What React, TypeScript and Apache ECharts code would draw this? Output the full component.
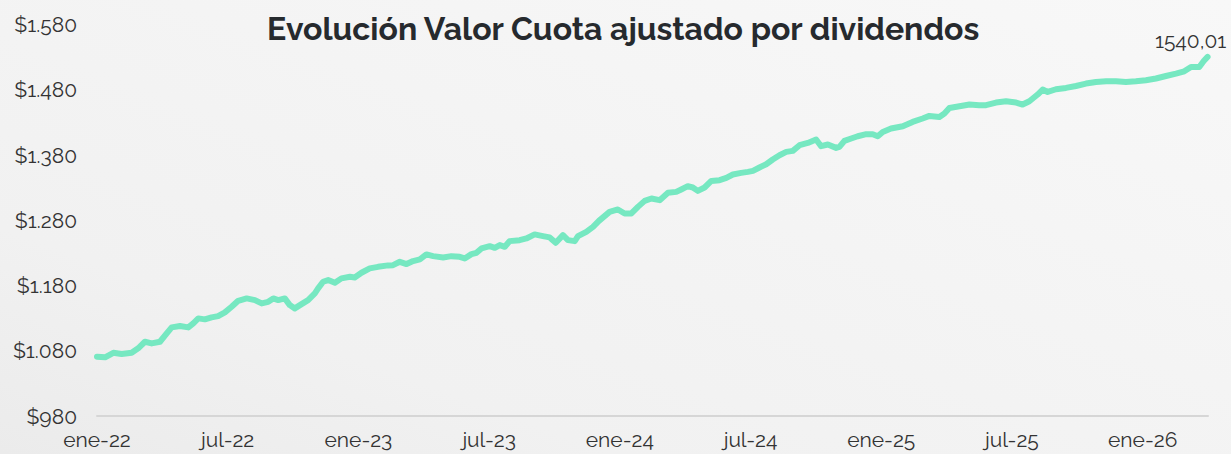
import React, { useEffect, useRef } from "react";
import * as echarts from "echarts";

const TITLE = "Evolución Valor Cuota ajustado por dividendos";
const X_TICK_LABELS = ["ene-22", "jul-22", "ene-23", "jul-23", "ene-24", "jul-24", "ene-25", "jul-25", "ene-26"];
const END_LABEL = "1540,01";

// months elapsed since ene-22
const MONTHS = [
  0.0, 0.37, 0.75, 1.13, 1.59, 1.89, 2.2, 2.51, 2.89, 3.2,
  3.43, 3.81, 4.19, 4.42, 4.65, 4.95, 5.26, 5.56, 5.87, 6.18,
  6.48, 6.87, 7.25, 7.56, 7.86, 8.09, 8.32, 8.62, 8.85, 9.08,
  9.39, 9.69, 10.0, 10.15, 10.38, 10.61, 10.92, 11.22, 11.61, 11.83,
  12.14, 12.52, 12.9, 13.36, 13.59, 13.9, 14.21, 14.51, 14.82, 15.12,
  15.43, 15.89, 16.27, 16.65, 16.88, 17.19, 17.42, 17.65, 18.03, 18.26,
  18.49, 18.72, 18.94, 19.4, 19.71, 20.09, 20.47, 20.78, 21.06, 21.39,
  21.62, 21.93, 22.08, 22.46, 22.77, 23.04, 23.53, 23.91, 24.22, 24.53,
  24.83, 25.14, 25.45, 25.83, 26.21, 26.59, 26.82, 27.12, 27.35, 27.58,
  27.89, 28.2, 28.58, 28.89, 29.19, 29.57, 29.88, 30.11, 30.41, 30.72,
  31.02, 31.33, 31.64, 31.94, 32.25, 32.63, 33.01, 33.24, 33.55, 33.93,
  34.08, 34.31, 34.62, 34.92, 35.31, 35.61, 35.84, 36.07, 36.45, 36.99,
  37.44, 37.9, 38.21, 38.67, 38.9, 39.13, 39.59, 40.05, 40.5, 40.81,
  41.27, 41.73, 42.19, 42.49, 42.8, 43.18, 43.41, 43.64, 44.02, 44.48,
  44.94, 45.4, 45.86, 46.32, 46.78, 47.23, 47.69, 48.15, 48.61, 49.07,
  49.53, 49.91, 50.22, 50.6, 50.83, 50.98,
];

const VALUES = [
  1070.8, 1069.9, 1076.9, 1074.9, 1076.9, 1083.7, 1093.8, 1091.3, 1093.8, 1106.6,
  1115.8, 1117.8, 1115.8, 1122.0, 1129.6, 1128.1, 1131.2, 1133.1, 1138.8, 1147.4,
  1156.6, 1160.2, 1157.6, 1152.6, 1155.0, 1160.2, 1157.6, 1160.2, 1150.0, 1144.9,
  1151.5, 1157.6, 1167.9, 1175.6, 1185.7, 1188.3, 1184.1, 1190.9, 1193.3, 1192.4,
  1199.5, 1206.2, 1208.6, 1210.8, 1211.2, 1216.3, 1212.8, 1217.4, 1220.0, 1227.6,
  1225.0, 1223.0, 1225.0, 1224.0, 1221.5, 1228.1, 1230.1, 1236.8, 1240.3, 1237.7,
  1241.9, 1239.3, 1248.0, 1249.5, 1252.1, 1258.3, 1255.7, 1253.7, 1245.4, 1257.2,
  1249.5, 1248.0, 1255.7, 1262.2, 1269.9, 1279.1, 1292.9, 1296.5, 1290.4, 1290.4,
  1300.5, 1309.7, 1313.4, 1310.8, 1322.0, 1323.5, 1327.2, 1332.2, 1330.2, 1325.0,
  1330.2, 1340.3, 1341.4, 1344.9, 1350.1, 1352.6, 1354.1, 1355.7, 1360.9, 1365.9,
  1373.1, 1379.7, 1384.8, 1386.3, 1395.0, 1398.5, 1403.7, 1393.5, 1396.1, 1390.9,
  1392.4, 1401.6, 1405.3, 1408.8, 1411.9, 1411.9, 1408.8, 1415.4, 1420.6, 1424.0,
  1430.7, 1435.9, 1439.9, 1438.4, 1443.6, 1452.1, 1454.7, 1457.3, 1456.3, 1456.3,
  1460.4, 1462.4, 1460.4, 1457.3, 1462.4, 1472.7, 1480.3, 1476.6, 1480.8, 1482.8,
  1485.8, 1489.5, 1492.0, 1493.0, 1493.0, 1492.0, 1493.0, 1494.6, 1497.2, 1501.1,
  1504.8, 1508.3, 1514.9, 1514.9, 1525.2, 1530.2,
];

const FONT = "Raleway, Lato, 'Noto Sans', sans-serif";

function formatMoney(v: number): string {
  const s = Math.round(v).toString();
  return "$" + s.replace(/\B(?=(\d{3})+(?!\d))/g, ".");
}

export default function App() {
  const ref = useRef<HTMLDivElement>(null);

  useEffect(() => {
    if (!ref.current) return;
    const chart = echarts.init(ref.current, null, { renderer: "svg" });
    const n = Math.min(MONTHS.length, VALUES.length);
    const data: number[][] = [];
    for (let i = 0; i < n; i++) data.push([MONTHS[i], VALUES[i]]);

    chart.setOption({
      animation: false,
      backgroundColor: {
        type: "linear",
        x: 0,
        y: 1,
        x2: 1,
        y2: 0,
        colorStops: [
          { offset: 0, color: "#ebebeb" },
          { offset: 0.25, color: "#f1f1f1" },
          { offset: 1, color: "#f8f8f8" },
        ],
      },
      title: {
        text: TITLE,
        left: 262,
        top: 7,
        textStyle: {
          fontFamily: FONT,
          fontWeight: "bold",
          fontSize: 32,
          color: "#262a2e",
        },
      },
      grid: { left: 97, right: 23, top: 24.5, bottom: 38, containLabel: false },
      xAxis: {
        type: "value",
        min: 0,
        max: 51,
        interval: 6,
        axisLine: { show: true, lineStyle: { color: "#d6d6d6", width: 2 } },
        axisTick: { show: false },
        splitLine: { show: false },
        axisLabel: {
          showMaxLabel: false,
          margin: 13,
          color: "#333333",
          fontFamily: FONT,
          fontSize: 21,
          formatter: (v: number) => {
            const idx = Math.round(v / 6);
            return Math.abs(v - idx * 6) < 1e-6 && X_TICK_LABELS[idx] ? X_TICK_LABELS[idx] : "";
          },
        },
      },
      yAxis: {
        type: "value",
        min: 980,
        max: 1580,
        interval: 100,
        axisLine: { show: false },
        axisTick: { show: false },
        splitLine: { show: false },
        axisLabel: {
          margin: 20,
          color: "#333333",
          fontFamily: FONT,
          fontSize: 21,
          formatter: (v: number) => formatMoney(v),
        },
      },
      series: [
        {
          type: "line",
          data,
          showSymbol: false,
          symbol: "none",
          lineStyle: { color: "#76e8c1", width: 6, join: "round", cap: "round" },
          emphasis: { disabled: true },
          markPoint: {
            silent: true,
            symbol: "circle",
            symbolSize: 1,
            itemStyle: { color: "rgba(0,0,0,0)" },
            data: [{ coord: data[n - 1] }],
            label: {
              show: true,
              position: "top",
              distance: 5,
              offset: [-17, 0],
              formatter: () => END_LABEL,
              color: "#333333",
              fontFamily: FONT,
              fontSize: 21,
            },
          },
        },
      ],
    });

    return () => chart.dispose();
  }, []);

  return (
    <div
      ref={ref}
      style={{ position: "fixed", left: 0, top: 0, width: 1231, height: 454 }}
    />
  );
}
